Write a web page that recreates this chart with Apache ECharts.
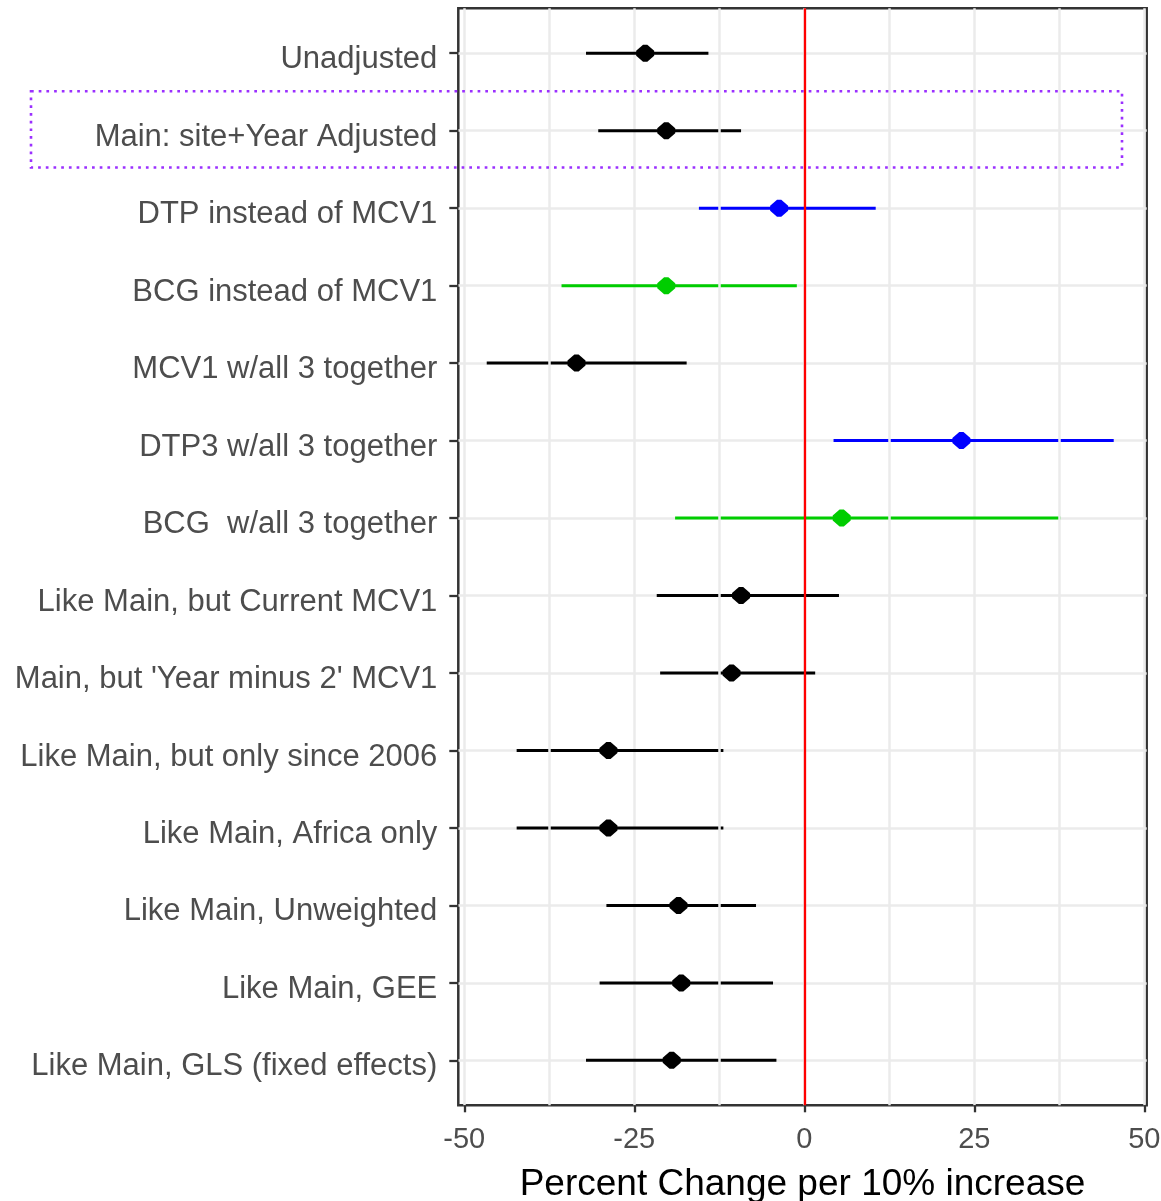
<!DOCTYPE html>
<html>
<head>
<meta charset="utf-8">
<title>Percent Change per 10% increase</title>
<script src="https://cdn.jsdelivr.net/npm/echarts@6/dist/echarts.min.js"></script>
<style>
    html, body { margin: 0; padding: 0; background: #fff; }
    #chart { width: 1161px; height: 1201px; }
</style>
</head>
<body>
<div id="chart"></div>
<script>
    // model labels, top to bottom
    const models = [
        'Unadjusted',
        'Main: site+Year Adjusted',
        'DTP instead of MCV1',
        'BCG instead of MCV1',
        'MCV1 w/all 3 together',
        'DTP3 w/all 3 together',
        'BCG  w/all 3 together',
        'Like Main, but Current MCV1',
        "Main, but 'Year minus 2' MCV1",
        'Like Main, but only since 2006',
        'Like Main, Africa only',
        'Like Main, Unweighted',
        'Like Main, GEE',
        'Like Main, GLS (fixed effects)'
    ];
    const vaccine = ['MCV1', 'MCV1', 'DTP', 'BCG', 'MCV1', 'DTP', 'BCG',
                     'MCV1', 'MCV1', 'MCV1', 'MCV1', 'MCV1', 'MCV1', 'MCV1'];
    const estimate = [-23.4, -20.3, -3.7, -20.3, -33.5, 23.1, 5.5,
                      -9.3, -10.7, -28.8, -28.8, -18.5, -18.1, -19.5];
    const lower = [-32.1, -30.3, -15.5, -35.7, -46.7, 4.3, -19.0,
                   -21.7, -21.2, -42.3, -42.3, -29.1, -30.1, -32.1];
    const upper = [-14.1, -9.3, 10.5, -1.1, -17.3, 45.5, 37.7,
                   5.1, 1.6, -11.9, -11.9, -7.1, -4.6, -4.1];
    const xTicks = [-50, -25, 0, 25, 50];
    const xMinor = [-37.5, -12.5, 12.5, 37.5];
    const rows = models.map((m, i) => i + 1);

    const vaccineColor = { MCV1: '#000000', DTP: '#0000FF', BCG: '#00CD00' };
    const font = '"Liberation Sans", Arial, sans-serif';

    const chart = echarts.init(document.getElementById('chart'));
    const option = {
        animation: false,
        backgroundColor: '#ffffff',
        textStyle: { fontFamily: font },
        grid: {
            left: 458.3, right: 14.3, top: 8.3, bottom: 95.7,
            outerBoundsMode: 'none',
            containLabel: false,
            show: true,
            backgroundColor: '#ffffff',
            borderColor: '#333333',
            borderWidth: 2.5
        },
        xAxis: {
            type: 'value',
            min: -50.88,
            max: 50.35,
            name: 'Percent Change per 10% increase',
            nameLocation: 'middle',
            nameGap: 61,
            nameTextStyle: { fontSize: 37, color: '#000000', lineHeight: 37, fontFamily: font },
            axisLine: { show: false, onZero: false },
            axisTick: { show: true, length: 7, customValues: xTicks, lineStyle: { color: '#333333', width: 2.3 } },
            axisLabel: { customValues: xTicks, fontSize: 29, color: '#4D4D4D', margin: 20, fontFamily: font },
            splitLine: { show: true, lineStyle: { color: '#EBEBEB', width: 2.5 } }
        },
        yAxis: {
            type: 'value',
            inverse: true,
            min: 0.42,
            max: 14.58,
            axisLine: { show: false, onZero: false },
            axisTick: { show: true, length: 9, customValues: rows, lineStyle: { color: '#333333', width: 2.3 } },
            axisLabel: {
                customValues: rows,
                margin: 21,
                formatter: v => '{t|' + models[Math.round(v) - 1] + '}',
                rich: {
                    t: {
                        fontSize: 31,
                        color: '#4D4D4D',
                        fontFamily: font,
                        padding: [13, 0, 0, 0]
                    }
                }
            },
            splitLine: { show: true, lineStyle: { color: '#EBEBEB', width: 2.5 } }
        },
        series: [
            {
                // minor grid lines
                type: 'line',
                data: [],
                z: 1,
                silent: true,
                markLine: {
                    silent: true,
                    symbol: ['none', 'none'],
                    label: { show: false },
                    lineStyle: { color: '#EBEBEB', width: 2.5, type: 'solid' },
                    emphasis: { disabled: true },
                    data: xMinor.map(v => ({ xAxis: v }))
                }
            },
            {
                type: 'custom',
                z: 3,
                encode: { x: [0, 1], y: 2 },
                data: rows.map((r, i) => ({
                    value: [lower[i], upper[i], r],
                    itemStyle: { color: vaccineColor[vaccine[i]] }
                })),
                renderItem: (params, api) => {
                    const a = api.coord([api.value(0), api.value(2)]);
                    const b = api.coord([api.value(1), api.value(2)]);
                    return {
                        type: 'line',
                        shape: { x1: a[0], y1: a[1], x2: b[0], y2: b[1] },
                        style: { stroke: api.visual('color'), lineWidth: 3 }
                    };
                }
            },
            {
                type: 'scatter',
                z: 4,
                symbol: 'path://M6.5,0H10.5L17,6V11L10.5,17H6.5L0,11V6Z',
                symbolSize: [18, 17],
                data: rows.map((r, i) => ({
                    value: [estimate[i], r],
                    itemStyle: { color: vaccineColor[vaccine[i]], opacity: 1 }
                }))
            },
            {
                // zero reference line
                type: 'line',
                data: [],
                z: 5,
                markLine: {
                    silent: true,
                    symbol: ['none', 'none'],
                    label: { show: false },
                    lineStyle: { color: '#FF0000', width: 2.3, type: 'solid' },
                    data: [{ xAxis: 0 }]
                }
            }
        ],
        graphic: [{
            // dotted highlight around the main model
            type: 'rect',
            z: 100,
            shape: { x: 31, y: 91.3, width: 1091, height: 76.2 },
            style: { fill: null, stroke: '#9B30FF', lineWidth: 2.6, lineDash: [2.7, 5] }
        }]
    };
    chart.setOption(option);
</script>
</body>
</html>
